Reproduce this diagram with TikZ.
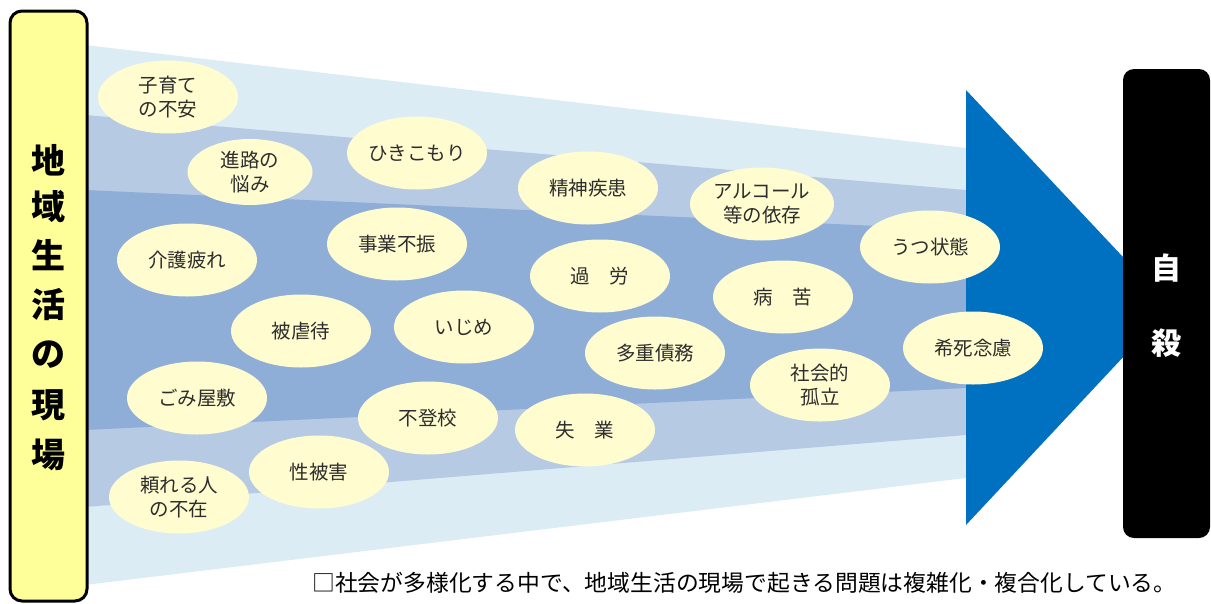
\documentclass[tikz,border=0pt]{standalone}
\usepackage{fontspec}
\setmainfont{Noto Sans CJK JP}
\usetikzlibrary{shapes.geometric}
\definecolor{bandA}{RGB}{220,236,245}
\definecolor{bandB}{RGB}{182,202,228}
\definecolor{bandC}{RGB}{142,173,215}
\definecolor{cream}{RGB}{255,253,208}
\definecolor{yel}{RGB}{255,255,153}
\definecolor{arrowblue}{RGB}{0,112,192}
\definecolor{txt}{RGB}{45,45,45}
\tikzset{
  issue/.style={ellipse, fill=cream, inner sep=0pt, minimum width=140pt, minimum height=73pt,
    align=center, text=txt, font=\fontsize{19.5}{24}\selectfont},
  sidebox/.style={draw=black, line width=3pt, fill=yel, rounded corners=12pt},
  endbox/.style={fill=black, rounded corners=11pt},
}
\begin{document}
\begin{tikzpicture}[x=1pt,y=-1pt]
\useasboundingbox (0,0) rectangle (1211,603);
% funnel bands
\fill[bandA] (85,45) -- (966,148) -- (966,478) -- (85,585) -- cycle;
\fill[bandB] (85,115) -- (966,190) -- (966,435) -- (85,507) -- cycle;
\fill[bandC] (85,190) -- (966,230) -- (966,388) -- (85,430) -- cycle;
% big arrow
\fill[arrowblue] (966,90) -- (1170,307) -- (966,525) -- cycle;
% end box
\fill[endbox] (1123,69) rectangle (1210,538);
\node[text=white, font=\fontsize{30}{30}\selectfont\bfseries] (ji) at (1166,268) {自};
\node[text=white, font=\fontsize{30}{30}\selectfont\bfseries] (satsu) at (1166,343) {殺};
% side box
\draw[sidebox] (10,11) rectangle (87,601);
\foreach \c/\y [count=\i] in {地/160,域/207,生/255,活/305,の/355,現/405,場/455}
  \node[text=black, font=\fontsize{34}{34}\selectfont\bfseries] (v\i) at (48,\y) {\c};
% issues
\node[issue] (e1) at (168,97) {子育て\\の不安};
\node[issue, minimum width=125pt, minimum height=66pt] (e2) at (250,172) {進路の\\悩み};
\node[issue] (e3) at (417,153) {ひきこもり};
\node[issue] (e4) at (588,188) {精神疾患};
\node[issue, minimum width=144pt] (e5) at (762,204) {アルコール\\等の依存};
\node[issue] (e6) at (930,247) {うつ状態};
\node[issue] (e7) at (187,260) {介護疲れ};
\node[issue] (e8) at (397,244) {事業不振};
\node[issue] (e9) at (600,276) {過\quad 労};
\node[issue] (e10) at (783,297) {病\quad 苦};
\node[issue] (e11) at (973,348) {希死念慮};
\node[issue] (e12) at (301,331) {被虐待};
\node[issue] (e13) at (464,327) {いじめ};
\node[issue] (e14) at (655,353) {多重債務};
\node[issue] (e15) at (820,385) {社会的\\孤立};
\node[issue] (e16) at (197,398) {ごみ屋敷};
\node[issue] (e17) at (428,418) {不登校};
\node[issue] (e18) at (585,430) {失\quad 業};
\node[issue] (e19) at (179,497) {頼れる人\\の不在};
\node[issue] (e20) at (319,472) {性被害};
% caption
\node[anchor=west, text=black, font=\fontsize{22.8}{24}\selectfont, inner sep=0pt] (cap) at (312,583)
  {□社会が多様化する中で、地域生活の現場で起きる問題は複雑化・複合化している。};
\end{tikzpicture}
\end{document}
